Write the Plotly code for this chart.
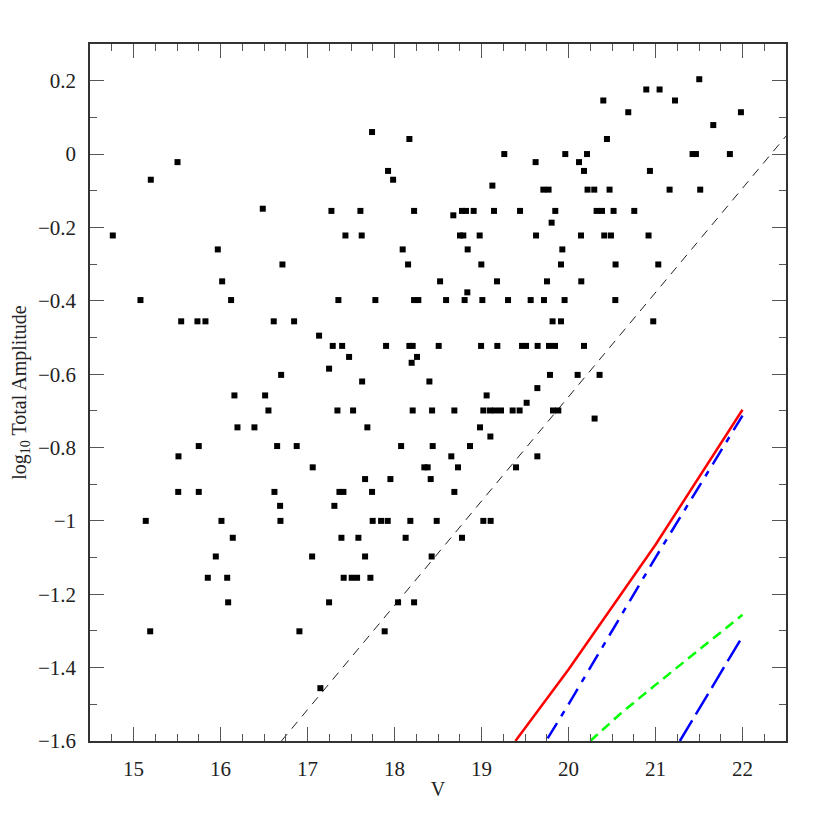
import plotly.graph_objects as go

# scatter: V magnitude and log10 total amplitude, read row by row
v_mag = [
    15.506, 15.199, 16.486, 14.762, 15.969, 16.712,
    17.742, 18.171, 19.262, 19.622, 17.926, 17.984, 19.125, 19.711, 19.771,
    17.275, 17.608, 18.225, 18.776, 18.822, 18.910, 19.144, 19.443, 19.848,
    18.676, 19.806,
    17.436, 17.623, 18.753, 18.791, 18.979, 19.627,
    18.094, 18.841, 18.156, 18.998, 19.914,
    21.503, 20.894, 21.047, 20.400, 21.224, 20.687, 21.982, 21.664, 20.442,
    19.963, 20.213, 21.426, 21.465, 21.855, 20.121, 20.178, 20.936,
    20.219, 20.296, 20.472, 21.162, 21.514,
    20.323, 20.385, 20.518, 20.756,
    20.144, 20.411, 20.488, 20.920, 19.929, 20.541, 21.032,
    16.019, 15.080, 16.122,
    15.548, 15.735, 15.827, 16.612, 16.846,
    17.133, 16.697, 16.160, 16.513, 16.551, 16.195, 16.390,
    15.750, 16.651, 16.876, 15.517, 17.060,
    15.514, 15.750, 16.620, 16.685,
    15.141, 16.011, 16.689, 16.141, 15.946, 17.053, 15.854, 16.077,
    16.088, 15.192, 16.907, 17.148,
    18.524, 19.178, 19.753, 18.837,
    17.355, 17.780, 18.225, 18.274, 18.593, 18.806, 19.010, 19.305, 19.565, 19.718,
    19.817, 19.914, 20.974,
    17.290, 17.398, 17.903, 18.171, 18.209, 18.508, 18.995, 19.182, 19.466,
    19.512, 19.645, 19.776, 19.845, 20.178,
    17.478, 18.259, 18.197, 17.248, 17.628, 18.401, 19.787, 20.105, 20.357,
    19.642, 19.059, 19.519,
    17.344, 17.524, 18.209, 18.432, 18.688, 19.021, 19.098, 19.156, 19.224,
    19.358, 19.438, 19.822, 19.883,
    17.688, 18.983, 19.102, 20.300,
    18.076, 18.439, 18.868, 18.653, 19.642,
    18.343, 18.381, 18.730, 19.397,
    17.662, 17.953, 18.416,
    17.367, 17.413, 17.742, 18.688, 17.309,
    17.749, 17.846, 17.922, 18.182, 18.485, 19.021, 19.105,
    17.390, 17.585, 18.128, 18.776,
    17.662, 18.427,
    17.416, 17.508, 17.570, 17.723,
    17.248, 18.041, 18.225, 17.887,
    20.147, 19.955, 20.538,
]
log_amp = [
    -0.022, -0.070, -0.149, -0.222, -0.260, -0.301,
    0.060, 0.041, 0.000, -0.022, -0.046, -0.070, -0.086, -0.097, -0.097,
    -0.155, -0.155, -0.155, -0.155, -0.155, -0.155, -0.155, -0.155, -0.155,
    -0.167, -0.187,
    -0.222, -0.222, -0.222, -0.222, -0.222, -0.222,
    -0.260, -0.260, -0.301, -0.301, -0.301,
    0.204, 0.176, 0.176, 0.146, 0.146, 0.114, 0.114, 0.079, 0.041,
    0.000, 0.000, 0.000, 0.000, 0.000, -0.022, -0.046, -0.046,
    -0.097, -0.097, -0.097, -0.097, -0.097,
    -0.155, -0.155, -0.155, -0.155,
    -0.222, -0.222, -0.222, -0.222, -0.260, -0.301, -0.301,
    -0.347, -0.398, -0.398,
    -0.456, -0.456, -0.456, -0.456, -0.456,
    -0.495, -0.602, -0.658, -0.658, -0.699, -0.745, -0.745,
    -0.796, -0.796, -0.796, -0.824, -0.854,
    -0.921, -0.921, -0.921, -0.959,
    -1.000, -1.000, -1.000, -1.046, -1.097, -1.097, -1.155, -1.155,
    -1.222, -1.301, -1.301, -1.456,
    -0.347, -0.347, -0.347, -0.377,
    -0.398, -0.398, -0.398, -0.398, -0.398, -0.398, -0.398, -0.398, -0.398, -0.398,
    -0.456, -0.456, -0.456,
    -0.523, -0.523, -0.523, -0.523, -0.523, -0.523, -0.523, -0.523, -0.523,
    -0.523, -0.523, -0.523, -0.523, -0.523,
    -0.553, -0.553, -0.569, -0.585, -0.620, -0.620, -0.602, -0.602, -0.602,
    -0.638, -0.658, -0.678,
    -0.699, -0.699, -0.699, -0.699, -0.699, -0.699, -0.699, -0.699, -0.699,
    -0.699, -0.699, -0.699, -0.699,
    -0.745, -0.745, -0.770, -0.721,
    -0.796, -0.796, -0.796, -0.824, -0.824,
    -0.854, -0.854, -0.854, -0.854,
    -0.886, -0.886, -0.886,
    -0.921, -0.921, -0.921, -0.921, -0.959,
    -1.000, -1.000, -1.000, -1.000, -1.000, -1.000, -1.000,
    -1.046, -1.046, -1.046, -1.046,
    -1.097, -1.097,
    -1.155, -1.155, -1.155, -1.155,
    -1.222, -1.222, -1.222, -1.301,
    -0.347, -0.398, -0.398,
]

# limit lines
cut_v = [16.70, 22.5]
cut_amp = [-1.6, 0.049]
red_v = [19.39, 20.0, 21.0, 22.0]
red_amp = [-1.6, -1.405, -1.065, -0.697]
blue_dd_v = [19.76, 20.0, 21.0, 22.0]
blue_dd_amp = [-1.593, -1.50, -1.10, -0.713]
green_v = [20.25, 20.6, 21.0, 21.5, 22.0]
green_amp = [-1.6, -1.525, -1.447, -1.352, -1.256]
blue_ld_v = [21.28, 22.0]
blue_ld_amp = [-1.6, -1.315]

FONT = "Liberation Serif"
AXIS_COLOR = "#333333"

fig = go.Figure()
fig.add_scatter(x=cut_v, y=cut_amp, mode="lines",
                line=dict(color="#222222", width=1, dash="9px,7px"))
fig.add_scatter(x=red_v, y=red_amp, mode="lines",
                line=dict(color="#ff0000", width=2.5))
fig.add_scatter(x=blue_dd_v, y=blue_dd_amp, mode="lines",
                line=dict(color="#0000ff", width=2.5, dash="18px,8px,6px,8px"))
fig.add_scatter(x=green_v, y=green_amp, mode="lines",
                line=dict(color="#00ff00", width=2.5, dash="10px,6px"))
fig.add_scatter(x=blue_ld_v, y=blue_ld_amp, mode="lines",
                line=dict(color="#0000ff", width=2.5, dash="24px,7px"))
fig.add_scatter(x=v_mag, y=log_amp, mode="markers",
                marker=dict(symbol="square", size=6, color="black"))

axis_common = dict(
    showgrid=False, zeroline=False, automargin=False,
    showline=True, linecolor=AXIS_COLOR, linewidth=1.5, mirror="allticks",
    ticks="inside", ticklen=14, tickwidth=1, tickcolor="#555555",
    tickfont=dict(family=FONT, size=21, color="#222222"),
    ticklabelstandoff=8,
)

fig.update_xaxes(
    range=[14.5, 22.5], dtick=1, tick0=15,
    minor=dict(dtick=0.25, ticks="inside", ticklen=7, tickcolor="#555555"),
    title=dict(text="V", font=dict(family=FONT, size=20, color="#222222"), standoff=2),
    **axis_common,
)
fig.update_yaxes(
    range=[-1.6, 0.3], dtick=0.2, tick0=0,
    minor=dict(dtick=0.1, ticks="inside", ticklen=7, tickcolor="#555555"),
    title=dict(text="log<sub>10</sub> Total Amplitude",
               font=dict(family=FONT, size=20, color="#222222"), standoff=13),
    **axis_common,
)

fig.update_layout(
    width=822, height=822,
    margin=dict(l=82, r=44, t=36, b=89),
    plot_bgcolor="white", paper_bgcolor="white",
    showlegend=False,
)

fig.write_html("out.html")
